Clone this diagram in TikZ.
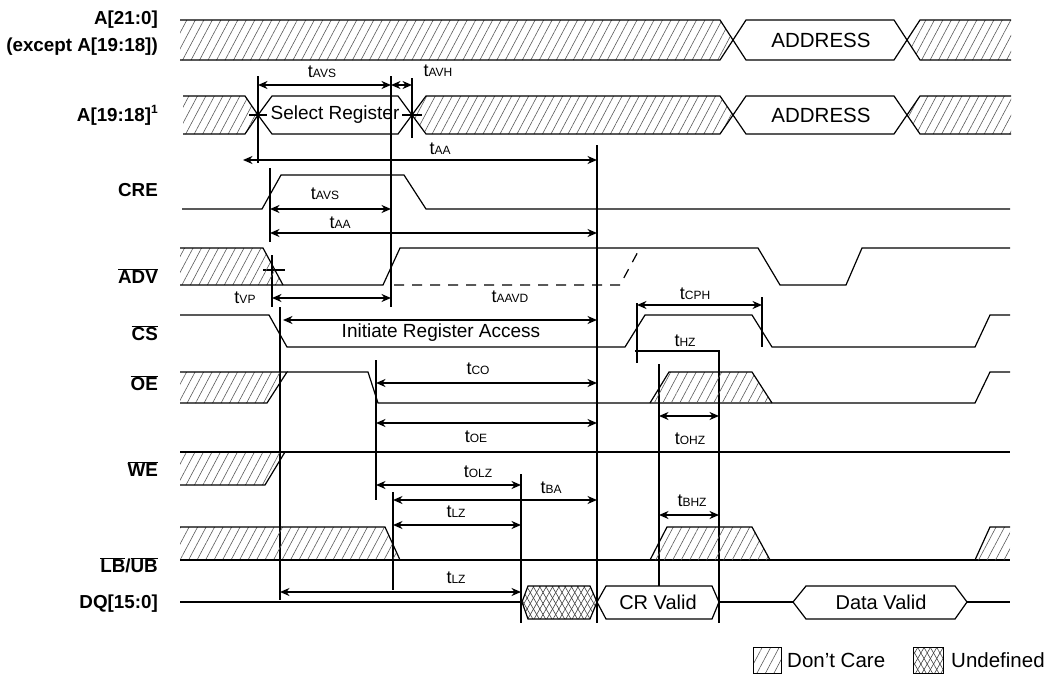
\documentclass[tikz,border=0pt]{standalone}
\usepackage{fontspec}
\setmainfont{Liberation Sans}
\usetikzlibrary{arrows.meta,patterns.meta}
\newcommand\tsub[1]{t{\fontsize{12}{12}\selectfont #1}}
\newcommand\ovl[1]{\ensuremath{\overline{\mbox{#1}}}}
\begin{document}
\begin{tikzpicture}[x=1pt,y=-1pt,
  sig/.style={line width=1.2pt, line join=miter},
  meas/.style={line width=1.8pt},
  dimarr/.style={line width=1.8pt,{Stealth[length=9.5pt,width=8pt]}-{Stealth[length=9.5pt,width=8pt]}},
  hatch/.style={pattern={Lines[angle=62,distance=7.5pt,line width=0.6pt]}, pattern color=black!65},
  xhatchA/.style={pattern={Lines[angle=60,distance=5.5pt,line width=0.6pt]}, pattern color=black!75},
  xhatchB/.style={pattern={Lines[angle=-60,distance=5.5pt,line width=0.6pt]}, pattern color=black!75},
  lbl/.style={anchor=east,font=\fontsize{18.8}{19}\selectfont\bfseries, inner sep=0pt},
  txt/.style={font=\fontsize{19}{19}\selectfont, inner sep=0pt},
  tl/.style={font=\fontsize{18}{18}\selectfont, inner sep=0pt}]
\useasboundingbox (0,0) rectangle (1049,675);

% ---- labels
\node[lbl] (lA) at (158,20) {A[21:0]};
\node[lbl] (lAx) at (158,47) {(except A[19:18])};
\node[lbl] (lA2) at (158,115) {A[19:18]\raisebox{0.8ex}{\fontsize{12}{12}\selectfont 1}};
\node[lbl] (lCRE) at (158,190) {CRE};
\node[lbl] (lADV) at (158,276) {\ovl{ADV}};
\node[lbl] (lCS) at (158,333) {\ovl{CS}};
\node[lbl] (lOE) at (158,383) {\ovl{OE}};
\node[lbl] (lWE) at (158,469) {\ovl{WE}};
\node[lbl] (lLB) at (158,565) {\ovl{LB}/\ovl{UB}};
\node[lbl] (lDQ) at (158,604) {DQ[15:0]};

% ---- A[21:0]
\fill[hatch] (180,20)--(720,20)--(733,40)--(720,60)--(180,60)--cycle;
\draw[sig] (180,20)--(720,20)--(733,40)--(720,60)--(180,60);
\draw[sig] (733,40)--(746,20)--(894,20)--(907,40)--(894,60)--(746,60)--cycle;
\node[txt,font=\fontsize{20.5}{20}\selectfont] (addr1) at (821,40) {ADDRESS};
\fill[hatch] (907,40)--(920,20)--(1011,20)--(1011,60)--(920,60)--cycle;
\draw[sig] (1011,20)--(920,20)--(907,40)--(920,60)--(1011,60);

% ---- A[19:18]
\fill[hatch] (183,96)--(245,96)--(258,115)--(245,134)--(183,134)--cycle;
\draw[sig] (183,96)--(245,96)--(258,115)--(245,134)--(183,134);
\draw[sig] (258,115)--(272,96)--(398,96)--(412,115)--(398,134)--(272,134)--cycle;
\node[txt] (selreg) at (335,115) {Select Register};
\fill[hatch] (412,115)--(426,96)--(720,96)--(733,115)--(720,134)--(426,134)--cycle;
\draw[sig] (412,115)--(426,96)--(720,96)--(733,115)--(720,134)--(426,134)--cycle;
\draw[sig] (733,115)--(746,96)--(894,96)--(907,115)--(894,134)--(746,134)--cycle;
\node[txt,font=\fontsize{20.5}{20}\selectfont] (addr2) at (821,115) {ADDRESS};
\fill[hatch] (907,115)--(920,96)--(1011,96)--(1011,134)--(920,134)--cycle;
\draw[sig] (1011,96)--(920,96)--(907,115)--(920,134)--(1011,134);
\draw[meas] (249,115)--(267,115);
\draw[meas] (402,115)--(422,115);

% ---- verticals
\draw[meas] (258,76)--(258,163);
\draw[meas] (412,78)--(412,138);
\draw[meas] (391,76)--(391,307);
\draw[meas] (597,145)--(597,623);
\draw[meas] (270,168)--(270,242);
\draw[meas] (272,255)--(272,307);
\draw[meas] (263,270)--(285,270);
\draw[meas] (280,307)--(280,600);
\draw[meas] (376,360)--(376,500);
\draw[meas] (393,492)--(393,590);
\draw[meas] (521,474)--(521,623);
\draw[meas] (637,303)--(637,363);
\draw[meas] (762,297)--(762,347);
\draw[meas] (635,351)--(719,351)--(719,623);
\draw[meas] (659,364)--(659,586);

% ---- dimension arrows and labels
\draw[dimarr] (258,85)--(391,85);
\node[tl] (tavs1) at (322,72) {\tsub{AVS}};
\draw[dimarr] (391,85)--(412,85);
\node[tl] (tavh) at (438,71) {\tsub{AVH}};
\draw[dimarr] (243,160)--(597,160);
\node[tl] (taa1) at (440,149) {\tsub{AA}};
\draw[dimarr] (270,209)--(391,209);
\node[tl] (tavs2) at (325,194) {\tsub{AVS}};
\draw[dimarr] (270,233)--(597,233);
\node[tl] (taa2) at (340,223) {\tsub{AA}};
\draw[dimarr] (272,298)--(391,298);
\node[tl] (tvp) at (245,298) {\tsub{VP}};
\node[tl] (taavd) at (510,297) {\tsub{AAVD}};
\draw[dimarr] (283,320)--(597,320);
\node[txt] (ira) at (441,333) {Initiate Register Access};
\draw[dimarr] (637,305)--(762,305);
\node[tl] (tcph) at (695,294) {\tsub{CPH}};
\node[tl] (thz) at (685,341) {\tsub{HZ}};
\draw[dimarr] (376,383)--(597,383);
\node[tl] (tco) at (478,369) {\tsub{CO}};
\draw[dimarr] (376,423)--(597,423);
\node[tl] (toe) at (476,437) {\tsub{OE}};
\draw[dimarr] (659,416)--(719,416);
\node[tl] (tohz) at (690,439) {\tsub{OHZ}};
\draw[dimarr] (376,485)--(521,485);
\node[tl] (tolz) at (478,472) {\tsub{OLZ}};
\draw[dimarr] (393,500)--(597,500);
\node[tl] (tba) at (551,488) {\tsub{BA}};
\draw[dimarr] (393,525)--(521,525);
\node[tl] (tlz1) at (456,512) {\tsub{LZ}};
\draw[dimarr] (659,515)--(719,515);
\node[tl] (tbhz) at (692,501) {\tsub{BHZ}};
\draw[dimarr] (280,592)--(521,592);
\node[tl] (tlz2) at (456,578) {\tsub{LZ}};

% ---- CRE
\draw[sig] (182,209)--(262,209)--(281,175)--(404,175)--(426,209)--(1010,209);

% ---- ADV
\fill[hatch] (180,248)--(263,248)--(283,285)--(180,285)--cycle;
\draw[sig] (180,248)--(263,248)--(283,285);
\draw[sig] (180,285)--(383,285)--(400,248)--(758,248)--(780,285)--(846,285)--(862,248)--(1010,248);
\draw[sig,dash pattern=on 10pt off 8pt] (394,285)--(620,285)--(640,248);

% ---- CS
\draw[sig] (180,315)--(269,315)--(287,347)--(625,347)--(645,315)--(752,315)--(772,347)--(975,347)--(990,315)--(1010,315);

% ---- OE
\fill[hatch] (180,372)--(287,372)--(267,403)--(180,403)--cycle;
\draw[sig] (180,372)--(287,372)--(267,403)--(180,403);
\draw[sig] (287,372)--(368,372)--(378,403)--(975,403)--(990,372)--(1010,372);
\fill[hatch] (650,403)--(669,372)--(752,372)--(772,403)--cycle;
\draw[sig] (650,403)--(669,372)--(752,372)--(772,403);

% ---- WE
\fill[hatch] (180,452)--(285,452)--(265,485)--(180,485)--cycle;
\draw[sig] (180,485)--(265,485)--(285,452);
\draw[sig] (180,452)--(1010,452);

% ---- LB/UB
\fill[hatch] (180,527)--(385,527)--(400,560)--(180,560)--cycle;
\draw[sig] (180,527)--(385,527)--(400,560);
\draw[sig] (180,560)--(1010,560);
\fill[hatch] (650,560)--(667,527)--(752,527)--(770,560)--cycle;
\draw[sig] (650,560)--(667,527)--(752,527)--(770,560);
\fill[hatch] (975,560)--(990,527)--(1010,527)--(1010,560)--cycle;
\draw[sig] (975,560)--(990,527)--(1010,527);

% ---- DQ
\draw[sig] (180,602)--(522,602);
\fill[xhatchA] (522,602)--(528,586)--(590,586)--(597,602)--(590,619)--(528,619)--cycle;
\fill[xhatchB] (522,602)--(528,586)--(590,586)--(597,602)--(590,619)--(528,619)--cycle;
\draw[sig] (522,602)--(528,586)--(590,586)--(597,602)--(590,619)--(528,619)--cycle;
\draw[sig] (597,602)--(606,586)--(712,586)--(719,602)--(712,619)--(606,619)--cycle;
\node[txt,font=\fontsize{20}{20}\selectfont] (crv) at (658,602) {CR Valid};
\draw[sig] (719,602)--(793,602);
\draw[sig] (793,602)--(806,586)--(955,586)--(967,602)--(955,619)--(806,619)--cycle;
\node[txt,font=\fontsize{20}{20}\selectfont] (dv) at (881,602) {Data Valid};
\draw[sig] (967,602)--(1010,602);

% ---- legend
\fill[hatch] (753,647) rectangle (781,673);
\draw[line width=0.8pt] (753,647) rectangle (781,673);
\node[txt,anchor=west,font=\fontsize{20.5}{20}\selectfont] (ldc) at (787,660) {Don't Care};
\fill[xhatchA] (913,647) rectangle (943,673);
\fill[xhatchB] (913,647) rectangle (943,673);
\draw[line width=0.8pt] (913,647) rectangle (943,673);
\node[txt,anchor=west,font=\fontsize{20.5}{20}\selectfont] (lud) at (951,660) {Undefined};
\end{tikzpicture}
\end{document}
